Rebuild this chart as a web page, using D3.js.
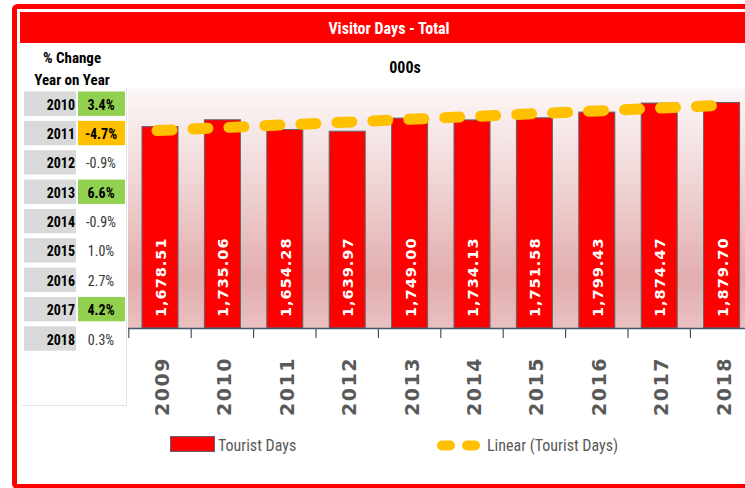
<!DOCTYPE html>
<html>
<head>
<meta charset="utf-8">
<script src="https://cdn.jsdelivr.net/npm/d3@7"></script>
<style>
  html, body { margin: 0; padding: 0; background: #fff; }
  svg { display: block; }
  .narrow { font-family: "Liberation Sans Narrow", "Arial Narrow", "Roboto Condensed", "Open Sans", sans-serif; }
</style>
</head>
<body>
<svg id="chart" width="745" height="488"></svg>
<script>
// ---- data ----
const years = ["2009", "2010", "2011", "2012", "2013", "2014", "2015", "2016", "2017", "2018"];
const touristDays = [1678.51, 1735.06, 1654.28, 1639.97, 1749.00, 1734.13, 1751.58, 1799.43, 1874.47, 1879.70];
const changeYears = ["2010", "2011", "2012", "2013", "2014", "2015", "2016", "2017", "2018"];
const changeValues = [3.4, -4.7, -0.9, 6.6, -0.9, 1.0, 2.7, 4.2, 0.3];
const yDomain = [0, 2000];
const titleText = "Visitor Days - Total";
const subtitleText = "000s";
const tableHeader = ["% Change", "Year on Year"];
const legendLabels = ["Tourist Days", "Linear (Tourist Days)"];

// ---- drawing ----
const svg = d3.select("#chart");
const W = 745, H = 488;
svg.append("rect").attr("width", W).attr("height", H).attr("fill", "#fff");

const defs = svg.append("defs");
const grad = defs.append("linearGradient").attr("id", "bg").attr("x1", 0).attr("y1", 0).attr("x2", 0).attr("y2", 1);
grad.append("stop").attr("offset", "0%").attr("stop-color", "#fdf7f7");
grad.append("stop").attr("offset", "35%").attr("stop-color", "#f1d9d9");
grad.append("stop").attr("offset", "80%").attr("stop-color", "#e2adad");
grad.append("stop").attr("offset", "100%").attr("stop-color", "#e9c1c1");

// outer frame
svg.append("rect").attr("x", 14.5).attr("y", 6.5).attr("width", 760).attr("height", 480)
  .attr("rx", 3).attr("fill", "none").attr("stroke", "#ff0000").attr("stroke-width", 5);

// title bar
svg.append("rect").attr("x", 20).attr("y", 12).attr("width", 740).attr("height", 31).attr("fill", "#ff0000");
svg.append("text").attr("class", "narrow").attr("x", 389).attr("y", 28)
  .attr("text-anchor", "middle").attr("dominant-baseline", "central")
  .attr("fill", "#fff").attr("font-weight", "bold").attr("font-size", 16).text(titleText);

// subtitle
svg.append("text").attr("class", "narrow").attr("x", 405).attr("y", 67)
  .attr("text-anchor", "middle").attr("dominant-baseline", "central")
  .attr("fill", "#000").attr("font-weight", "bold").attr("font-size", 16).text(subtitleText);

// table header
tableHeader.forEach((t, i) => {
  svg.append("text").attr("class", "narrow").attr("x", 72).attr("y", 58 + i * 22)
    .attr("text-anchor", "middle").attr("dominant-baseline", "central")
    .attr("fill", "#000").attr("font-weight", "bold").attr("font-size", 15).text(t);
});

// table panel faint border
svg.append("line").attr("x1", 126.5).attr("x2", 126.5).attr("y1", 88).attr("y2", 405.5).attr("stroke", "#e4e4e4");
svg.append("line").attr("x1", 22).attr("x2", 126.5).attr("y1", 405.5).attr("y2", 405.5).attr("stroke", "#e4e4e4");

// table rows
const rowY = d3.scaleBand().domain(changeYears).range([91.5, 91.5 + 28.8 * changeYears.length]).paddingInner(0.17).paddingOuter(0);
const rows = svg.append("g").selectAll("g").data(changeYears).join("g")
  .attr("transform", d => `translate(0,${rowY(d)})`);
rows.append("rect").attr("x", 24).attr("width", 52).attr("height", rowY.bandwidth()).attr("fill", "#d9d9d9");
rows.append("rect").attr("x", 78).attr("width", 47).attr("height", rowY.bandwidth())
  .attr("fill", (d, i) => changeValues[i] > 3 ? "#92d050" : (changeValues[i] < -3 ? "#ffc000" : "none"));
rows.append("text").attr("class", "narrow").attr("x", 75).attr("y", rowY.bandwidth() / 2 + 1)
  .attr("text-anchor", "end").attr("dominant-baseline", "central")
  .attr("font-weight", "bold").attr("font-size", 14).attr("fill", "#000").text(d => d);
rows.append("text").attr("class", "narrow").attr("x", 101).attr("y", rowY.bandwidth() / 2 + 1)
  .attr("text-anchor", "middle").attr("dominant-baseline", "central")
  .attr("font-weight", (d, i) => Math.abs(changeValues[i]) > 3 ? "bold" : "normal")
  .attr("font-size", 14).attr("fill", (d, i) => Math.abs(changeValues[i]) > 3 ? "#000" : "#333")
  .text((d, i) => changeValues[i].toFixed(1) + "%");

// plot area
const x = d3.scaleBand().domain(years).range([128.8, 752.8]).paddingInner(0.423).paddingOuter(0.2115);
const y = d3.scaleLinear().domain(yDomain).range([328, 88]);

svg.append("rect").attr("x", 128).attr("y", 88).attr("width", 630).attr("height", 240).attr("fill", "url(#bg)");

// bars
svg.append("g").selectAll("rect").data(touristDays).join("rect")
  .attr("x", (d, i) => x(years[i]))
  .attr("y", d => y(d))
  .attr("width", x.bandwidth())
  .attr("height", d => y(0) - y(d))
  .attr("fill", "#ff0000").attr("stroke", "#5f6470").attr("stroke-width", 1);

// bar labels
svg.append("g").selectAll("text").data(touristDays).join("text")
  .attr("transform", (d, i) => `translate(${x(years[i]) + x.bandwidth() / 2 + 1},317) rotate(-90)`)
  .attr("dominant-baseline", "central")
  .attr("font-family", "DejaVu Sans, Verdana, sans-serif")
  .attr("font-size", 14.5).attr("font-weight", "bold").attr("letter-spacing", "1px")
  .attr("fill", "#fff").text(d => d3.format(",.2f")(d));

// linear trend (least squares from series)
const idx = touristDays.map((d, i) => i);
const mx = d3.mean(idx), my = d3.mean(touristDays);
const slope = d3.sum(idx, i => (i - mx) * (touristDays[i] - my)) / d3.sum(idx, i => (i - mx) * (i - mx));
const intercept = my - slope * mx;
const cx = i => x(years[i]) + x.bandwidth() / 2;
const trend = [0, years.length - 1].map(i => [cx(i) - 3, y(intercept + slope * i)]);
svg.append("path").attr("d", d3.line()(trend))
  .attr("fill", "none").attr("stroke", "#ffc000").attr("stroke-width", 11)
  .attr("stroke-linecap", "round").attr("stroke-dasharray", "15 21");

// x axis
const xAxisScale = d3.scalePoint().domain(d3.range(years.length + 1)).range([128.8, 752.8]);
const axisG = svg.append("g");
axisG.append("line").attr("x1", 128).attr("x2", 760).attr("y1", 328.5).attr("y2", 328.5)
  .attr("stroke", "#44546a").attr("stroke-width", 1.5);
axisG.selectAll("line.tick").data(d3.range(years.length + 1)).join("line").attr("class", "tick")
  .attr("x1", d => xAxisScale(d)).attr("x2", d => xAxisScale(d)).attr("y1", 328).attr("y2", 338)
  .attr("stroke", "#44546a").attr("stroke-width", 1.2);
axisG.selectAll("text").data(years).join("text")
  .attr("transform", d => `translate(${x(d) + x.bandwidth() / 2 + 2},357) rotate(-90)`)
  .attr("text-anchor", "end").attr("dominant-baseline", "central")
  .attr("font-family", "DejaVu Sans, Verdana, sans-serif")
  .attr("font-size", 19).attr("font-weight", "bold").attr("letter-spacing", "1.5px")
  .attr("fill", "#595959").text(d => d);

// legend
const lg = svg.append("g");
lg.append("rect").attr("x", 170.5).attr("y", 436.5).attr("width", 44).attr("height", 15)
  .attr("fill", "#ff0000").attr("stroke", "#5f6470");
lg.append("text").attr("class", "narrow").attr("x", 218).attr("y", 445)
  .attr("dominant-baseline", "central").attr("font-size", 16).attr("fill", "#595959").text(legendLabels[0]);
lg.append("line").attr("x1", 442).attr("x2", 476).attr("y1", 445.5).attr("y2", 445.5)
  .attr("stroke", "#ffc000").attr("stroke-width", 10).attr("stroke-linecap", "round")
  .attr("stroke-dasharray", "8 17");
lg.append("text").attr("class", "narrow").attr("x", 487).attr("y", 445)
  .attr("dominant-baseline", "central").attr("font-size", 16).attr("fill", "#595959").text(legendLabels[1]);
</script>
</body>
</html>
